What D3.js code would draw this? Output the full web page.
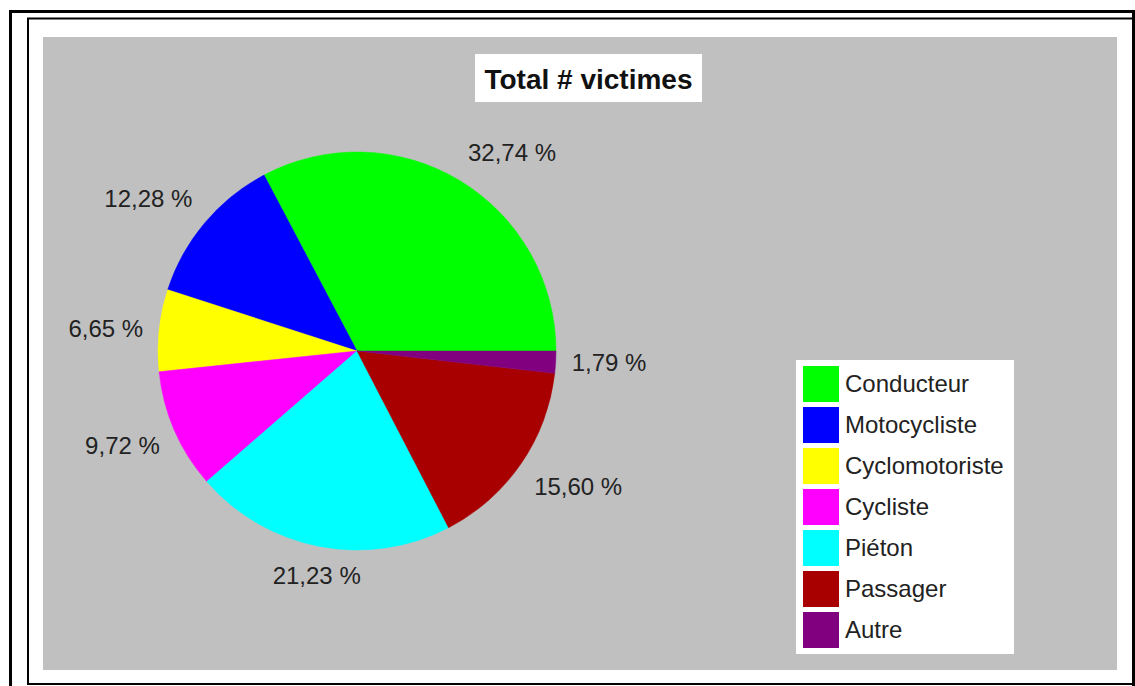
<!DOCTYPE html>
<html>
<head>
<meta charset="utf-8">
<script src="https://cdn.jsdelivr.net/npm/d3@7"></script>
<style>
  html, body { margin: 0; padding: 0; background: #ffffff; }
  svg { display: block; }
  text { font-family: Arial, "Liberation Sans", sans-serif; }
</style>
</head>
<body>
<svg id="chart" width="1135" height="686"></svg>
<script>
// ---- data ----
const title = "Total # victimes";
const categories = ["Conducteur", "Motocycliste", "Cyclomotoriste", "Cycliste", "Piéton", "Passager", "Autre"];
const values = [32.74, 12.28, 6.65, 9.72, 21.23, 15.60, 1.79];
const colors = ["#00ff00", "#0000ff", "#ffff00", "#ff00ff", "#00ffff", "#a80000", "#800080"];

const svg = d3.select("#chart");

// frames
svg.append("rect").attr("x", 28).attr("y", 18.5).attr("width", 1105).attr("height", 665.5)
  .attr("fill", "#ffffff").attr("stroke", "#000").attr("stroke-width", 2);
svg.append("rect").attr("x", 10.5).attr("y", 11.5).attr("width", 1123).attr("height", 700)
  .attr("fill", "none").attr("stroke", "#000").attr("stroke-width", 3);

// plot area
svg.append("rect").attr("x", 43).attr("y", 37).attr("width", 1074).attr("height", 633)
  .attr("fill", "#c0c0c0");

// title
const tg = svg.append("g");
tg.append("rect").attr("x", 475).attr("y", 54).attr("width", 227).attr("height", 48).attr("fill", "#fff");
tg.append("text").attr("x", 588.5).attr("y", 89).attr("text-anchor", "middle")
  .attr("font-size", 28).attr("font-weight", "bold").attr("fill", "#111").text(title);

// pie
const cx = 357, cy = 351, r = 199;
const data = categories.map((c, i) => ({ name: c, value: values[i], color: colors[i] }));
const pie = d3.pie().value(d => d.value).sort(null)
  .startAngle(Math.PI / 2).endAngle(Math.PI / 2 - 2 * Math.PI);
const arcs = pie(data);
const arc = d3.arc().innerRadius(0).outerRadius(r);

const pg = svg.append("g").attr("transform", `translate(${cx},${cy})`);
pg.selectAll("path").data(arcs).join("path")
  .attr("d", arc).attr("fill", d => d.data.color)
  .attr("stroke", d => d.data.color).attr("stroke-width", 0.5);

// labels (anchored just outside the rim, box pushed away from the pie)
const fmt = v => d3.format(".2f")(v).replace(".", ",") + " %";
const shift = t => Math.sign(t) * Math.max(0, Math.min(1, (Math.abs(t) - 0.2) / 0.3));
const lg = pg.append("g");
arcs.forEach(a => {
  const mid = (a.startAngle + a.endAngle) / 2;
  const sx = Math.sin(mid), sy = -Math.cos(mid);
  const t = lg.append("text").attr("font-size", 24).attr("fill", "#222")
    .attr("text-anchor", "middle").text(fmt(a.data.value));
  const w = t.node().getComputedTextLength();
  const hh = 14;
  const ax = sx * (r + 16), ay = sy * (r + 16);
  const x = ax + shift(sx) * w / 2;
  const y = ay + shift(sy) * hh;
  t.attr("x", x).attr("y", y + 8);
});

// legend
const lx = 796, ly = 360;
const leg = svg.append("g");
leg.append("rect").attr("x", lx).attr("y", ly).attr("width", 218).attr("height", 294).attr("fill", "#fff");
const item = leg.selectAll("g.item").data(data).join("g").attr("class", "item")
  .attr("transform", (d, i) => `translate(${lx + 7},${ly + 6 + i * 41})`);
item.append("rect").attr("width", 36).attr("height", 36).attr("fill", d => d.color);
item.append("text").attr("x", 42).attr("y", 26).attr("font-size", 24).attr("fill", "#222").text(d => d.name);
</script>
</body>
</html>
